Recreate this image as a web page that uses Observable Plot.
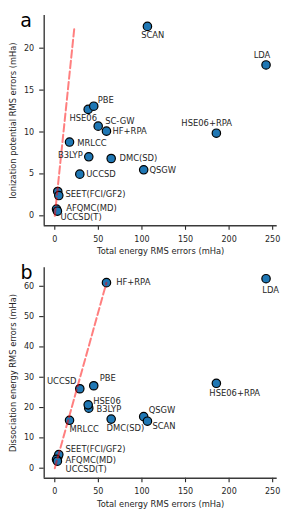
<!DOCTYPE html>
<html><head><meta charset="utf-8">
<script src="https://cdn.jsdelivr.net/npm/d3@7"></script>
<script src="https://cdn.jsdelivr.net/npm/@observablehq/plot@0.6"></script>
<style>
html,body{margin:0;padding:0;background:#fff;}
#chart{width:292px;}
#chart svg{display:block;}
</style></head><body><div id="chart"></div>
<script>
// ---- data ----
const methods = ["LDA","B3LYP","HSE06","PBE","SC-GW","HF+RPA","HSE06+RPA","MRLCC","DMC(SD)","QSGW","SCAN","UCCSD","SEET(FCI)","SEET(GF2)","AFQMC(MD)","UCCSD(T)"];
const totalEnergyErr = [242.4,39.0,38.3,44.7,49.8,59.3,185.4,16.9,64.7,102.0,106.3,28.7,3.4,4.6,2.0,3.0];
const ionizationErr  = [18.0,7.04,12.7,13.08,10.7,10.1,9.86,8.8,6.84,5.49,22.6,4.97,2.9,2.42,0.8,0.55];
const dissociationErr= [62.5,19.8,20.9,27.2,null,61.2,28.0,15.8,16.2,17.0,15.5,26.2,3.6,4.5,2.9,2.3];
const displayNames = {"SEET(GF2)":"SEET(FCI/GF2)"};
const xTicks = [0,50,100,150,200,250];
const ipTicks = [0,5,10,15,20];
const deTicks = [0,10,20,30,40,50,60];
const diagA = {x:[0,22.6], y:[0,22.6]};
const diagB = {x:[0,59.3], y:[0,61.2]};
const xLabel = "Total energy RMS errors (mHa)";
const ipLabel = "Ionization potential RMS errors (mHa)";
const deLabel = "Dissociation energy RMS errors (mHa)";

// ---- layout (label offsets in px) ----
const offsetsA = {
  "SCAN":[-6.3,9,"start"], "LDA":[-12.4,-9.3,"start"], "PBE":[4,-6,"start"], "HSE06":[-18.7,9,"start"],
  "SC-GW":[7,-4.7,"start"], "HF+RPA":[6,0.3,"start"], "HSE06+RPA":[-35,-9.4,"start"], "MRLCC":[7.7,1,"start"],
  "B3LYP":[-6,-1.3,"end"], "DMC(SD)":[8.3,-0.3,"start"], "QSGW":[5.7,0.4,"start"], "UCCSD":[6.4,0,"start"],
  "SEET(GF2)":[6.7,-1.3,"start"], "AFQMC(MD)":[9.7,-1.3,"start"], "UCCSD(T)":[3.1,5.6,"start"]
};
const offsetsB = {
  "HF+RPA":[9.7,-0.3,"start"], "LDA":[-3.7,11.3,"start"], "UCCSD":[-3.3,-7.3,"end"], "PBE":[6,-7,"start"],
  "HSE06+RPA":[-7,9.6,"start"], "HSE06":[5,-3.6,"start"], "B3LYP":[7.7,1.6,"start"], "MRLCC":[0,8.6,"start"],
  "DMC(SD)":[-4.7,9.6,"start"], "QSGW":[5,-6,"start"], "SCAN":[5,5,"start"],
  "SEET(GF2)":[6.7,-5.1,"start"], "AFQMC(MD)":[9,0.4,"start"], "UCCSD(T)":[8.1,8,"start"]
};

const xDomain = [-12.15, 255.2];
const ink = "#262626";

function panel({yVals, yDomain, yTicks, yLabel, letter, letterDx, diag, offsets, height, mt, mb, xlabDy}) {
  const rows = methods.map((m,i)=>({m, x: totalEnergyErr[i], y: yVals[i]})).filter(d=>d.y!=null);
  const diagRows = diag.x.map((x,i)=>({x, y: diag.y[i]}));
  const labelMarks = rows.filter(d=>offsets[d.m]).map(d=>{
    const [dx,dy,anchor] = offsets[d.m];
    return Plot.text([d], {x:"x", y:"y", text: r=>displayNames[r.m]||r.m, dx, dy, textAnchor:anchor,
      lineAnchor:"middle", fontSize:8.4, fill:ink});
  });
  return Plot.plot({
    width:292, height, marginLeft:43.7, marginRight:15.3, marginTop:mt, marginBottom:mb,
    x:{domain:xDomain, axis:null}, y:{domain:yDomain, axis:null},
    style:{fontFamily:"'DejaVu Sans', sans-serif", fontSize:"8px", color:ink, background:"white", overflow:"visible"},
    marks:[
      Plot.axisX({ticks:xTicks, tickSize:4.5, tickPadding:6, label:null, fontSize:8, strokeWidth:1.1}),
      Plot.axisY({ticks:yTicks, tickSize:4.5, tickPadding:5.5, label:null, fontSize:8, strokeWidth:1.1}),
      Plot.ruleX([xDomain[0]], {stroke:"#3a3a3a", strokeWidth:1.4}),
      Plot.ruleY([yDomain[0]], {stroke:"#3a3a3a", strokeWidth:1.4}),
      Plot.dot(rows, {x:"x", y:"y", r:4.2, fill:"#1f77b4", stroke:"#000", strokeWidth:1.2}),
      Plot.line(diagRows, {x:"x", y:"y", stroke:"red", strokeOpacity:0.5, strokeWidth:2, strokeDasharray:"7.4,3.2"}),
      ...labelMarks,
      Plot.text([xLabel], {text:d=>d, frameAnchor:"bottom", dy:xlabDy, textAnchor:"middle", lineAnchor:"middle", fontSize:8.3, fill:ink}),
      Plot.text([yLabel], {text:d=>d, frameAnchor:"left", rotate:-90, dx:-30.4, textAnchor:"middle", lineAnchor:"middle", fontSize:8.3, fill:ink}),
      Plot.text([letter], {text:d=>d, frameAnchor:"top-left", dx:letterDx, dy:11, textAnchor:"start", lineAnchor:"bottom", fontSize:19, fill:"#000"})
    ]
  });
}

const chart = document.getElementById("chart");
chart.append(panel({yVals:ionizationErr, yDomain:[-1.19,23.9], yTicks:ipTicks, yLabel:ipLabel, letter:"a", letterDx:-24,
  diag:diagA, offsets:offsetsA, height:258, mt:15, mb:32.7, xlabDy:25.7}));
chart.append(panel({yVals:dissociationErr, yDomain:[-3.3,66.1], yTicks:deTicks, yLabel:deLabel, letter:"b", letterDx:-23.7,
  diag:diagB, offsets:offsetsB, height:261, mt:9.3, mb:41.3, xlabDy:26.6}));
</script></body></html>
